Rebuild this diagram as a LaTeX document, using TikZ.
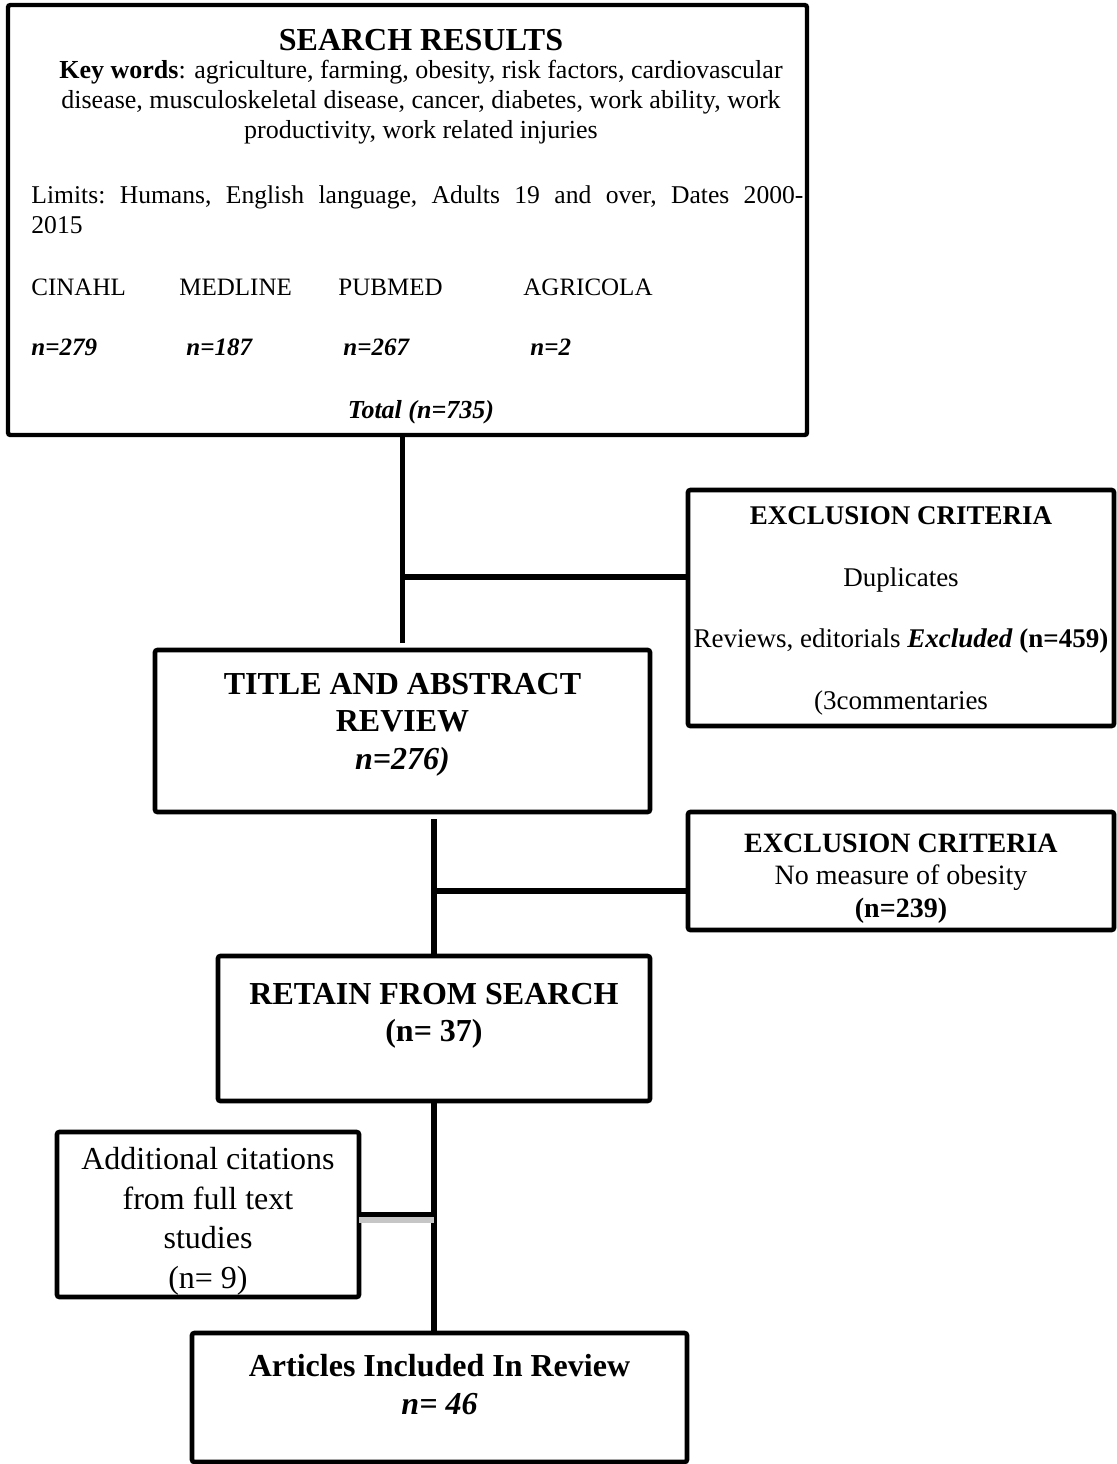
\documentclass[tikz,border=0pt]{standalone}
\usepackage{fontspec}
\setmainfont{Liberation Serif}
\usepackage{xcolor}
\usepackage{tikz}
\usetikzlibrary{positioning}

\begin{document}
\begin{tikzpicture}[
  x=0.5pt, y=-0.5pt,
  box/.style={draw, line width=2.3pt, rounded corners=1.2pt, outer sep=0pt, inner sep=2pt, align=center, fill=white},
  searchbox/.style={box, line width=2.2pt, minimum width=399.5pt, minimum height=215pt},
  exclbox/.style={box, minimum width=213pt},
  stagebox/.style={box, font=\fontsize{16}{18.75}\selectfont\bfseries},
  txt/.style={inner sep=0pt, font=\fontsize{12.5}{15}\selectfont\frenchspacing},
  count/.style={txt, anchor=base west, font=\fontsize{12.5}{15}\selectfont\bfseries\itshape},
  link/.style={line width=2.8pt},
  linkshade/.style={line width=3pt, color=gray!45},
]
  \useasboundingbox (0,0) rectangle (1116,1464);

  % Search results
  \node[searchbox] (search) at (407.5,220) {};
  \node[txt, anchor=base, font=\fontsize{16}{18}\selectfont\bfseries] (heading) at (421,50) {SEARCH RESULTS};
  \node[txt, anchor=base, align=center, font=\fontsize{13}{15}\selectfont] (keywords) at (421,138)
    {\textbf{Key words}: agriculture, farming, obesity, risk factors, cardiovascular\\
     disease, musculoskeletal disease, cancer, diabetes, work ability, work\\
     productivity, work related injuries};
  \node[txt, anchor=base west, text width=386pt, align=justify, font=\fontsize{12.8}{15}\selectfont\frenchspacing] (limits) at (31,203)
    {Limits: Humans, English language, Adults 19 and over, Dates 2000-\linebreak 2015};

  % Databases
  \node[txt, anchor=base west] (cinahl) at (31,295) {CINAHL};
  \node[txt, anchor=base west] (medline) at (179,295) {MEDLINE};
  \node[txt, anchor=base west] (pubmed) at (338,295) {PUBMED};
  \node[txt, anchor=base west] (agricola) at (523,295) {AGRICOLA};
  \node[count] (ncinahl) at (31,355) {n=279};
  \node[count] (nmedline) at (186,355) {n=187};
  \node[count] (npubmed) at (343,355) {n=267};
  \node[count] (nagricola) at (530,355) {n=2};
  \node[count, anchor=base, font=\fontsize{13}{15}\selectfont\bfseries\itshape] (total) at (421,418) {Total (n=735)};

  % Screening
  \node[stagebox, minimum width=247.5pt, minimum height=81pt, text depth=10pt, below=107.5pt of search, xshift=-2.5pt] (title)
    {TITLE AND ABSTRACT\\REVIEW\\\textit{n=276)}};
  \node[exclbox, minimum height=118pt, text depth=-2pt, below=27.5pt of search, xshift=246.75pt, font=\fontsize{13.5}{30.8}\selectfont] (excl1)
    {\textbf{EXCLUSION CRITERIA}\\Duplicates\\Reviews, editorials \textbf{\textit{Excluded}} \textbf{(n=459)}\\(3commentaries};
  \node[exclbox, minimum height=59pt, text height=46pt, text depth=0pt, below=43pt of excl1, font=\fontsize{14}{16.25}\selectfont] (excl2)
    {\textbf{EXCLUSION CRITERIA}\\No measure of obesity\\\textbf{(n=239)}};

  % Retained and included
  \node[stagebox, minimum width=216pt, minimum height=72.5pt, text depth=16pt, below=72pt of title, xshift=15.75pt] (retain)
    {RETAIN FROM SEARCH\\(n= 37)};
  \node[box, minimum width=151pt, minimum height=82.5pt, text height=74pt, text depth=0pt, font=\fontsize{16}{19.8}\selectfont, below=15.5pt of retain, xshift=-113pt] (extra)
    {Additional citations\\from full text\\studies\\(n= 9)};
  \node[stagebox, font=\fontsize{16}{19}\selectfont\bfseries, minimum width=247.5pt, minimum height=64.5pt, text depth=13.3pt, below=116pt of retain, xshift=2.75pt] (article)
    {Articles Included In Review\\\textit{n= 46}};

  % Connectors
  \coordinate (fork1) at (title.north |- 0,577);
  \coordinate (fork2) at (retain.north |- 0,891);
  \draw[link, shorten <=3.5pt] (title.north) -- (title.north |- search.south);
  \draw[link] (fork1) -- (fork1 -| excl1.west);
  \draw[link, shorten >=3.5pt] (retain.north) -- (retain.north |- title.south);
  \draw[link] (fork2) -- (fork2 -| excl2.west);
  \draw[link] (retain.south) -- (retain.south |- article.north);
  \draw[linkshade] ([yshift=-2.8pt]extra.east) -- ([yshift=-2.8pt]extra.east -| retain.south);
  \draw[link] (extra.east) -- (extra.east -| retain.south);
\end{tikzpicture}
\end{document}
